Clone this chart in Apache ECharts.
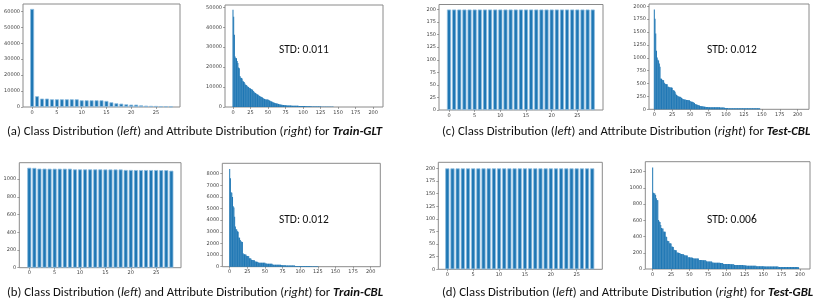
<!DOCTYPE html>
<html>
<head>
<meta charset="utf-8">
<script src="https://cdn.jsdelivr.net/npm/echarts@6/dist/echarts.min.js"></script>
<style>html,body{margin:0;padding:0;background:#fff}#c{width:817px;height:307px}</style>
</head>
<body>
<div id="c"></div>
<script>
// ---- data ----
const classTicks = [0, 5, 10, 15, 20, 25];
const attrTicks = [0, 25, 50, 75, 100, 125, 150, 175, 200];
const ticksA_L = [0, 10000, 20000, 30000, 40000, 50000, 60000];
const ticksA_R = [0, 10000, 20000, 30000, 40000, 50000];
const ticksB_L = [0, 200, 400, 600, 800, 1000];
const ticksB_R = [0, 1000, 2000, 3000, 4000, 5000, 6000, 7000, 8000];
const ticksC_L = [0, 25, 50, 75, 100, 125, 150, 175, 200];
const ticksC_R = [0, 250, 500, 750, 1000, 1250, 1500, 1750, 2000];
const ticksD_L = [0, 25, 50, 75, 100, 125, 150, 175, 200];
const ticksD_R = [0, 200, 400, 600, 800, 1000, 1200];

// Train-GLT class counts
const classTrainGLT = [61500,6750,5260,5260,4840,4840,4840,4840,4840,4840,4210,4210,4210,4210,4210,3790,2950,2320,2100,1680,1470,1470,1050,840,700,650,420,420,250];
// Train-CBL class counts
const classTrainCBL = [1127,1125,1117,1117,1116,1116,1116,1116,1116,1109,1109,1109,1109,1109,1109,1108,1108,1108,1108,1102,1102,1101,1101,1101,1101,1101,1100,1100,1094];
// Test-CBL class counts
const classTestCBL = [200,200,200,200,200,200,200,200,200,200,200,200,200,200,200,200,200,200,200,200,200,200,200,200,200,200,200,200,200];
// Test-GBL class counts
const classTestGBL = [200,200,200,200,200,200,200,200,200,200,200,200,200,200,200,200,200,200,200,200,200,200,200,200,200,200,200,200,200];

// Train-GLT attribute counts
const attrTrainGLT = [
48700,45300,36200,25300,24600,24400,23000,22000,19800,19400,
15500,14800,14500,14300,13200,12800,12500,11800,11200,11000,
10600,10300,10000,9700,9500,9300,9000,8800,8700,8000,
7600,7300,7000,6800,6500,6300,6200,5800,5500,5300,
5100,5000,4700,4400,4200,4000,3900,3800,3800,3700,
3700,3500,3300,3100,2900,2800,2600,2400,2300,2100,
2000,1900,1800,1700,1600,1500,1400,1300,1200,1150,
1100,1050,1000,950,900,880,850,800,780,760,
740,720,700,690,680,670,660,650,640,620,
600,590,580,570,560,550,540,530,520,510,
500,490,470,450,430,410,390,370,350,340,
330,320,310,300,290,280,270,260,250,240,
230,220,210,200,195,190,185,180,175,170,
165,160,155,150,150,145,140,140,135,130,
130,125,120,120,0,0,0,0,0,0,
0,0,0,0,0,0,0,0,0,0,
0,0,0,0,0,0,0,0,0,0,
0,0,0,0,0,0,0,0,0,0,
0,0,0,0,0,0,0,0,0,0,
0,0,0,0,0,0,0,0,0,0,
0,0,0,0];
// Train-CBL attribute counts
const attrTrainCBL = [
8400,7600,6400,6350,6000,5200,5100,4300,3450,3250,
3200,3050,3000,2500,2480,2300,2180,2150,2120,1150,
1080,1060,1050,1040,940,930,910,900,730,720,
700,590,580,570,560,550,450,440,430,420,
410,350,348,346,344,342,340,338,336,334,
330,270,265,262,260,258,255,252,250,248,
245,180,178,176,174,172,170,168,166,164,
162,160,158,156,154,120,118,116,115,114,
113,112,111,110,109,108,107,106,105,104,
103,102,100,60,60,59,59,58,58,57,
57,56,56,55,55,54,54,53,53,52,
52,51,51,50,50,49,49,48,48,47,
47,46,46,45,45,44,0,0,0,0,
0,0,0,0,0,0,0,0,0,0,
0,0,0,0,0,0,0,0,0,0,
0,0,0,0,0,0,0,0,0,0,
0,0,0,0,0,0,0,0,0,0,
0,0,0,0,0,0,0,0,0,0,
0,0,0,0,0,0,0,0,0,0,
0,0,0,0,0,0,0,0,0,0,
0,0,0,0];
// Test-CBL attribute counts
const attrTestCBL = [
1940,1760,1470,1135,1006,960,950,890,825,600,
595,575,570,565,516,495,490,488,485,440,
438,428,426,424,422,420,375,370,360,340,
300,277,270,260,250,246,245,240,220,210,
200,195,190,188,185,182,180,180,178,176,
160,150,148,145,140,130,120,103,100,95,
90,85,80,75,65,62,60,58,55,52,
50,48,46,45,44,43,42,42,41,41,
40,40,40,39,39,39,39,39,38,38,
38,38,37,37,36,35,34,33,30,26,
25,24,23,22,22,21,21,21,20,20,
20,20,19,19,19,19,19,19,19,19,
19,19,19,19,19,19,19,19,19,19,
19,19,19,19,19,19,19,19,19,19,
19,19,19,19,19,19,19,19,0,0,
0,0,0,0,0,0,0,0,0,0,
0,0,0,0,0,0,0,0,0,0,
0,0,0,0,0,0,0,0,0,0,
0,0,0,0,0,0,0,0,0,0,
0,0,0,0,0,0,0,0,0,0,
0,0,0,0];
// Test-GBL attribute counts
const attrTestGBL = [
1253,941,935,930,912,871,852,848,604,585,
580,542,505,500,498,462,460,458,400,396,
348,345,342,318,316,314,278,275,272,236,
234,232,230,204,202,200,198,196,186,185,
184,183,182,170,168,167,166,165,146,145,
144,143,142,141,140,132,131,131,130,130,
129,129,128,112,111,111,110,110,109,109,
108,108,107,95,94,94,93,93,92,92,
91,79,79,78,78,78,77,77,77,76,
76,76,75,75,75,75,63,63,62,62,
62,62,61,61,61,61,60,60,60,60,
60,50,50,49,49,49,49,48,48,48,
48,48,48,47,47,47,42,42,41,41,
41,41,41,40,40,40,40,40,40,40,
40,34,34,33,33,33,33,33,33,33,
33,33,32,32,32,32,32,32,32,32,
32,32,32,32,32,32,32,31,31,31,
31,26,26,26,25,25,25,25,25,25,
25,25,25,25,25,25,25,24,24,24,
24,24,24,24,24,24,24,24,23,0,
0,0,0,0];

const captions = [
  {t: '(a) Class Distribution ({i|left}) and Attribute Distribution ({i|right}) for {b|Train-GLT}', x: 7, y: 125},
  {t: '(c) Class Distribution ({i|left}) and Attribute Distribution ({i|right}) for {b|Test-CBL}', x: 442, y: 125},
  {t: '(b) Class Distribution ({i|left}) and Attribute Distribution ({i|right}) for {b|Train-CBL}', x: 7, y: 286},
  {t: '(d) Class Distribution ({i|left}) and Attribute Distribution ({i|right}) for {b|Test-GBL}', x: 442, y: 286}
];
const stdLabels = [
  {t: 'STD: 0.011', x: 279, y: 44},
  {t: 'STD: 0.012', x: 707, y: 44},
  {t: 'STD: 0.012', x: 279, y: 214},
  {t: 'STD: 0.006', x: 707, y: 214}
];

// ---- layout ----
const panels = [
  {rect: [23, 4, 157, 103], xr: [-1.84, 29.84], xt: classTicks, ymax: 64600, yt: ticksA_L, data: classTrainGLT, cls: true},
  {rect: [225, 5, 158, 102], xr: [-11.4, 214], xt: attrTicks, ymax: 51135, yt: ticksA_R, data: attrTrainGLT, cls: false},
  {rect: [439, 4.5, 164, 105.5], xr: [-1.95, 30], xt: classTicks, ymax: 210, yt: ticksC_L, data: classTestCBL, cls: true},
  {rect: [649, 4, 160, 105.3], xr: [-7.4, 215.8], xt: attrTicks, ymax: 2045, yt: ticksC_R, data: attrTestCBL, cls: false},
  {rect: [19.3, 162.7, 161.7, 105], xr: [-1.97, 29.9], xt: classTicks, ymax: 1184, yt: ticksB_L, data: classTrainCBL, cls: true},
  {rect: [222.3, 163.3, 158, 103.4], xr: [-10.5, 213.6], xt: attrTicks, ymax: 8890, yt: ticksB_R, data: attrTrainCBL, cls: false},
  {rect: [438.3, 162.3, 164, 107], xr: [-1.74, 29.95], xt: classTicks, ymax: 212, yt: ticksD_L, data: classTestGBL, cls: true},
  {rect: [645.3, 161.7, 164.7, 107.3], xr: [-10, 213.5], xt: attrTicks, ymax: 1323, yt: ticksD_R, data: attrTestGBL, cls: false}
];

const grid = [], xAxis = [], yAxis = [], series = [];
const lblStyle = {fontSize: 5, color: '#444', fontFamily: 'DejaVu Sans', formatter: v => String(v)};
panels.forEach((p, i) => {
  grid.push({left: p.rect[0], top: p.rect[1], width: p.rect[2], height: p.rect[3],
    show: true, borderColor: '#8a8a8a', borderWidth: 1, backgroundColor: 'transparent', containLabel: false});
  xAxis.push({type: 'value', gridIndex: i, min: p.xr[0], max: p.xr[1],
    axisLine: {show: false, onZero: false},
    axisTick: {show: true, length: 2, customValues: p.xt, lineStyle: {color: '#666', width: 0.6}},
    axisLabel: Object.assign({customValues: p.xt, margin: 3}, lblStyle),
    splitLine: {show: false}});
  yAxis.push({type: 'value', gridIndex: i, min: 0, max: p.ymax,
    axisLine: {show: false, onZero: false},
    axisTick: {show: true, length: 2, customValues: p.yt, lineStyle: {color: '#666', width: 0.6}},
    axisLabel: Object.assign({customValues: p.yt, margin: 3}, lblStyle),
    splitLine: {show: false}});
  series.push({type: 'bar', xAxisIndex: i, yAxisIndex: i,
    data: p.data.map((v, k) => [k, v]),
    barWidth: p.cls ? '80%' : '92%',
    silent: true, animation: false,
    itemStyle: p.cls ? {color: '#1f77b4', borderColor: '#8dbde0', borderWidth: 0.8}
                     : {color: '#1f77b4'}});
});

const title = [];
const capFont = 'Carlito, "Open Sans", "Liberation Sans", sans-serif';
const capSize = 12.75;
captions.forEach(c => title.push({text: c.t, left: c.x, top: c.y, padding: 0,
  textStyle: {fontSize: capSize, fontWeight: 'normal', color: '#111', fontFamily: capFont,
    rich: {i: {fontStyle: 'italic', fontSize: capSize, color: '#111', fontFamily: capFont},
           b: {fontStyle: 'italic', fontWeight: 'bold', fontSize: capSize, color: '#111', fontFamily: capFont}}}}));
stdLabels.forEach(s => title.push({text: s.t, left: s.x, top: s.y, padding: 0,
  textStyle: {fontSize: 11.5, fontWeight: 'normal', color: '#111', fontFamily: capFont}}));

const chart = echarts.init(document.getElementById('c'), null, {renderer: 'canvas'});
chart.setOption({animation: false, backgroundColor: '#fff', title, grid, xAxis, yAxis, series});
</script>
</body>
</html>
